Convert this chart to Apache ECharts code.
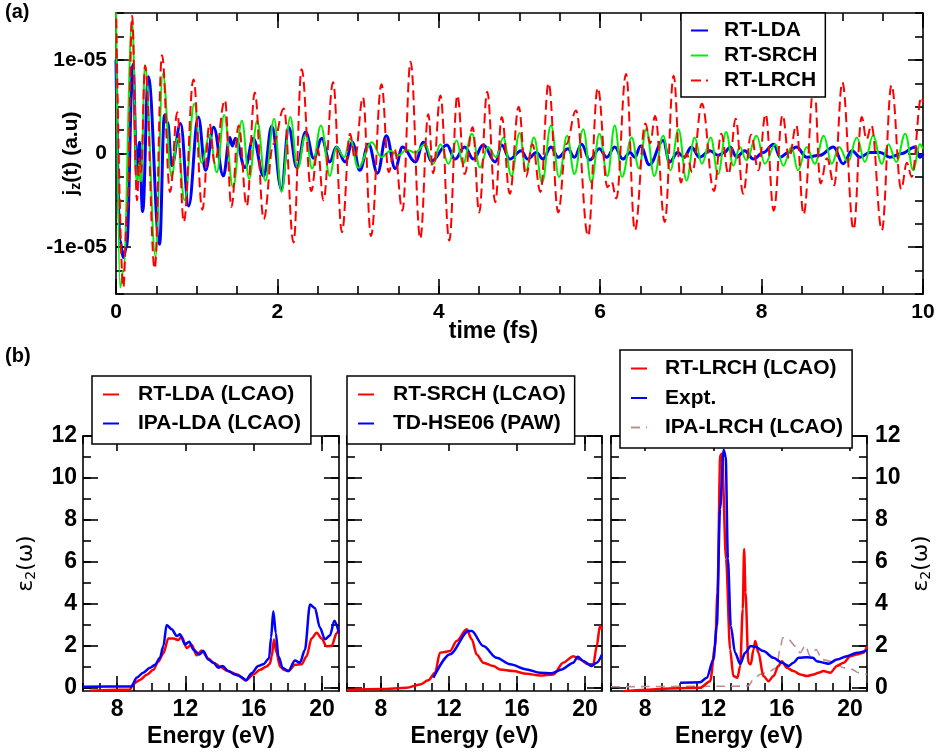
<!DOCTYPE html>
<html><head><meta charset="utf-8">
<script src="https://cdn.jsdelivr.net/npm/echarts@6/dist/echarts.min.js"></script>
<style>html,body{margin:0;padding:0;background:#fff}#c{width:938px;height:754px}</style>
</head><body><div id="c"></div>
<script>
// ---------- Panel (a): current density j_z(t), values in units of 1e-5 a.u., time in fs ----------
const J_UNIT = 1e-5;
const rtLda = [[0,1.0],[0.05,-0.93],[0.09,-1.11],[0.13,-1.0],[0.21,0.95],[0.26,-0.25],[0.29,0.12],[0.33,-0.62],[0.40,0.82],[0.54,-0.97],[0.60,0.41],[0.64,0.33],[0.69,-0.13],[0.80,0.32],[0.90,-0.56],[1.02,0.39],[1.11,-0.18],[1.21,0.28],[1.33,-0.24],[1.41,0.17],[1.44,0.08],[1.48,0.16],[1.60,-0.15],[1.70,0.16],[1.83,-0.24],[1.93,0.29],[2.05,-0.38],[2.14,0.28],[2.24,-0.15],[2.35,0.23],[2.45,-0.05],[2.55,0.16],[2.65,-0.09],[2.73,0.07],[2.84,-0.09],[2.93,0.12],[3.02,-0.18],[3.13,0.10],[3.24,-0.21],[3.35,0.19],[3.46,-0.16],[3.55,0.07],[3.71,-0.09],[3.81,0.12],[3.91,-0.08],[4.10,0.09],[4.20,-0.06],[4.32,0.07],[4.43,-0.06],[4.55,0.09],[4.70,-0.09],[4.78,0.09],[4.88,-0.06],[5.02,0.03],[5.10,-0.06],[5.21,0.01],[5.29,-0.06],[5.39,0.07],[5.48,-0.04],[5.60,0.05],[5.68,-0.04],[5.77,0.10],[5.87,-0.07],[5.99,0.05],[6.08,-0.04],[6.18,0.07],[6.28,-0.06],[6.37,0.01],[6.43,-0.04],[6.50,0.08],[6.61,-0.12],[6.78,0.14],[6.86,-0.09],[6.96,0.01],[7.04,-0.04],[7.13,0.07],[7.23,-0.04],[7.36,0.03],[7.46,-0.02],[7.54,0.01],[7.61,0.07],[7.69,-0.04],[7.79,0.03],[7.90,-0.06],[8.02,0.01],[8.15,0.10],[8.23,-0.04],[8.33,0.01],[8.43,0.07],[8.56,-0.04],[8.72,-0.02],[8.89,0.07],[9.01,-0.11],[9.12,0.03],[9.22,-0.04],[9.34,0.01],[9.47,0.01],[9.59,-0.04],[9.74,0.0],[9.90,0.07],[9.96,-0.04],[10,0.0]];
const rtSrch = [[0,1.6],[0.05,-1.43],[0.09,-1.25],[0.2,1.42],[0.26,-0.35],[0.29,-0.1],[0.31,-0.3],[0.36,0.94],[0.49,-1.1],[0.58,0.85],[0.69,-0.25],[0.76,0.16],[0.85,-0.50],[0.97,0.53],[1.06,-0.10],[1.16,0.20],[1.25,-0.20],[1.34,0.41],[1.45,-0.36],[1.56,0.35],[1.65,-0.27],[1.75,0.35],[1.85,-0.29],[1.96,0.37],[2.05,-0.41],[2.16,0.39],[2.25,-0.16],[2.35,0.20],[2.43,-0.16],[2.54,0.30],[2.65,-0.24],[2.73,0.07],[2.83,-0.04],[2.90,0.16],[3.00,-0.15],[3.17,0.12],[3.29,-0.04],[3.40,0.03],[3.50,-0.02],[3.60,0.04],[3.71,0.01],[3.83,0.10],[3.93,-0.11],[4.02,0.10],[4.12,-0.11],[4.22,0.14],[4.30,-0.11],[4.41,0.21],[4.51,-0.15],[4.61,0.07],[4.71,-0.04],[4.80,0.17],[4.90,-0.24],[5.00,0.22],[5.08,-0.18],[5.18,0.17],[5.28,-0.31],[5.39,0.30],[5.49,-0.25],[5.59,0.19],[5.68,-0.22],[5.79,0.26],[5.89,-0.31],[5.99,0.21],[6.09,-0.24],[6.18,0.30],[6.27,-0.25],[6.39,0.17],[6.48,-0.16],[6.57,0.26],[6.67,-0.24],[6.78,0.19],[6.87,-0.18],[6.97,0.26],[7.07,-0.29],[7.17,0.17],[7.26,-0.11],[7.37,0.17],[7.46,-0.22],[7.56,0.23],[7.65,-0.13],[7.73,0.07],[7.81,-0.07],[7.94,0.19],[8.04,-0.11],[8.17,0.10],[8.27,-0.13],[8.37,0.07],[8.45,-0.18],[8.56,0.07],[8.66,-0.11],[8.77,0.19],[8.87,-0.11],[8.96,0.07],[9.07,-0.09],[9.18,0.17],[9.28,-0.09],[9.38,0.19],[9.49,-0.11],[9.57,0.10],[9.67,-0.09],[9.78,0.21],[9.88,-0.18],[9.96,0.10],[10,0.05]];
const rtLrch = [[0,1.6],[0.09,-1.43],[0.14,-0.6],[0.2,1.47],[0.26,-0.5],[0.29,-0.05],[0.31,-0.2],[0.36,0.94],[0.48,-1.23],[0.57,1.05],[0.67,-0.41],[0.76,0.44],[0.84,-0.73],[0.96,0.79],[1.07,-0.60],[1.16,0.32],[1.22,-0.1],[1.35,0.57],[1.43,-0.57],[1.52,0.3],[1.62,-0.56],[1.72,0.65],[1.83,-0.70],[1.95,0.1],[2.08,0.48],[2.20,-0.95],[2.30,0.90],[2.42,-0.40],[2.50,0.05],[2.57,-0.50],[2.69,0.76],[2.80,-0.84],[2.90,0.21],[2.96,-0.05],[3.06,0.60],[3.16,-0.88],[3.29,0.74],[3.38,-0.2],[3.45,0.05],[3.55,-0.61],[3.65,0.98],[3.77,-0.91],[3.87,0.42],[3.93,-0.21],[4.02,0.62],[4.13,-0.93],[4.23,0.62],[4.32,-0.22],[4.42,0.28],[4.50,-0.63],[4.60,0.66],[4.70,-0.52],[4.78,0.39],[4.88,-0.43],[4.99,0.50],[5.08,-0.25],[5.16,0.1],[5.26,-0.41],[5.36,0.75],[5.48,-0.63],[5.58,0.1],[5.70,0.46],[5.85,-0.88],[5.97,0.70],[6.09,-0.36],[6.14,-0.30],[6.20,-0.48],[6.32,0.85],[6.43,-0.82],[6.56,0.32],[6.62,0.11],[6.68,0.40],[6.80,-0.73],[6.91,0.83],[7.00,-0.31],[7.07,0.0],[7.14,-0.2],[7.26,0.53],[7.41,-0.40],[7.50,0.21],[7.59,-0.22],[7.68,0.37],[7.77,-0.43],[7.87,0.2],[7.96,-0.18],[8.05,0.42],[8.15,-0.61],[8.26,0.41],[8.34,-0.05],[8.43,0.30],[8.52,-0.65],[8.65,0.75],[8.73,-0.32],[8.81,-0.05],[8.90,-0.34],[9.00,0.76],[9.14,-0.81],[9.24,0.39],[9.30,0.15],[9.36,0.3],[9.49,-0.82],[9.61,0.73],[9.73,-0.38],[9.80,-0.1],[9.86,-0.25],[9.98,0.60],[10,0.55]];

// ---------- Panel (b): epsilon_2(omega) vs energy (eV) ----------
const rtLdaLcao = [[6.4,-0.14],[8.75,-0.08],[8.95,0.2],[9.34,0.38],[9.73,0.62],[10.12,0.86],[10.41,1.25],[10.71,1.65],[11.0,2.35],[11.29,2.35],[11.58,2.28],[11.78,2.45],[12.07,1.9],[12.37,2.05],[12.66,1.55],[12.95,1.78],[13.34,1.4],[13.64,1.2],[14.03,1.02],[14.42,0.82],[15.0,0.65],[15.55,0.36],[15.98,0.64],[16.37,0.86],[16.76,1.02],[16.95,1.15],[17.06,1.5],[17.19,2.3],[17.33,1.7],[17.55,1.0],[17.8,0.85],[18.03,0.8],[18.42,1.1],[18.81,1.12],[19.1,1.5],[19.39,2.35],[19.69,2.62],[19.98,2.35],[20.27,1.98],[20.57,2.0],[20.86,2.6],[21.0,2.8]];
const ipaLdaLcao = [[6.0,0.05],[8.85,0.07],[9.14,0.48],[9.53,0.72],[9.93,0.96],[10.22,1.1],[10.51,1.44],[10.71,1.99],[10.9,3.0],[11.2,2.79],[11.49,2.47],[11.68,2.55],[11.98,2.07],[12.23,2.2],[12.46,1.83],[12.82,1.59],[13.05,1.75],[13.34,1.35],[13.64,1.2],[13.93,0.96],[14.18,1.04],[14.51,0.8],[14.9,0.64],[15.16,0.56],[15.35,0.48],[15.55,0.36],[15.88,0.7],[16.27,1.04],[16.56,1.12],[16.9,1.4],[17.02,2.4],[17.15,3.65],[17.3,2.6],[17.45,1.5],[17.7,0.95],[18.03,0.8],[18.42,1.3],[18.71,1.2],[19.0,1.8],[19.3,3.97],[19.59,3.8],[19.88,2.87],[20.18,2.31],[20.47,2.5],[20.73,3.2],[21.0,2.6]];
const rtSrchLcao = [[6.0,-0.1],[8.0,-0.06],[9.5,0.0],[10.29,0.16],[10.78,0.36],[11.18,0.72],[11.47,1.67],[11.76,1.71],[12.06,1.75],[12.45,2.23],[13.04,2.79],[13.34,2.31],[13.63,1.59],[14.02,1.2],[14.61,1.04],[15.0,0.88],[15.78,0.8],[16.57,0.67],[17.35,0.59],[18.14,0.64],[18.72,1.2],[19.31,1.51],[19.71,1.35],[20.19,1.12],[20.49,1.12],[20.69,1.99],[20.88,2.95],[21.0,2.79]];
const tdHse06Paw = [[11.08,0.48],[12.06,1.6],[13.14,2.71],[13.34,2.71],[14.02,1.99],[14.8,1.43],[15.59,1.12],[16.57,0.88],[17.35,0.72],[18.04,0.69],[18.63,0.88],[19.31,1.2],[19.57,1.48],[19.9,1.28],[20.39,1.04],[20.69,1.2],[21.0,1.59]];
const rtLrchLcao = [[6.72,-0.16],[11.22,0.0],[11.81,0.32],[12.1,1.99],[12.24,4.55],[12.4,11.08],[12.5,11.16],[12.74,6.15],[12.98,1.83],[13.17,0.56],[13.41,0.48],[13.57,1.04],[13.72,3.75],[13.8,6.62],[13.88,4.55],[14.05,1.2],[14.19,1.12],[14.35,1.83],[14.45,2.23],[14.64,1.67],[14.93,0.56],[15.23,0.32],[15.52,0.56],[15.81,1.04],[16.01,1.27],[16.3,0.96],[16.69,0.8],[17.09,0.64],[17.48,0.56],[17.87,0.64],[18.16,0.72],[18.45,0.8],[18.85,0.72],[19.24,1.04],[19.63,1.2],[20.02,1.51],[20.41,1.59],[20.8,1.67],[21.0,1.99]];
const expt = [[10.05,0.24],[11.22,0.27],[11.61,0.48],[12.0,1.35],[12.2,2.95],[12.39,8.53],[12.6,11.35],[12.72,11.0],[12.85,6.15],[13.02,2.95],[13.27,1.67],[13.57,1.15],[13.86,1.67],[14.19,1.99],[14.45,1.96],[14.93,1.75],[15.52,1.43],[16.01,1.2],[16.4,1.04],[16.69,1.2],[16.99,1.43],[17.48,1.46],[17.83,1.43],[18.06,1.27],[18.45,1.2],[18.75,1.15],[19.24,1.35],[19.82,1.51],[20.41,1.67],[21.0,1.8]];
const ipaLrchLcao = [[6.0,0.05],[13.6,0.08],[14.05,0.1],[14.35,0.4],[14.74,0.64],[15.3,0.8],[15.7,0.96],[15.9,1.83],[16.06,2.39],[16.4,2.31],[16.79,1.99],[17.09,1.67],[17.38,2.02],[17.67,1.51],[18.02,1.83],[18.36,1.35],[18.85,1.27],[19.24,1.12],[19.63,0.96],[20.12,0.88],[20.51,0.72],[21.0,0.64]];

// ---------- Tick values ----------
const timeTicks = [0,2,4,6,8,10];
const jTicks = [-1e-5, 0, 1e-5];
const energyTicks = [8,12,16,20];
const epsTicks = [0,2,4,6,8,10,12];

function steps(a,b,s){const r=[];for(let i=0;a+i*s<=b+s*1e-6;i++)r.push(+(a+i*s).toPrecision(10));return r;}
const timeMinor = steps(0,10,0.5);
const jMinor = steps(-1.5e-5,1.5e-5,0.25e-5);
const energyMinor = steps(6,21,1);
const epsMinor = steps(0,12,1);

const FONT = '"Liberation Sans", Arial, Helvetica, sans-serif';
const BLACK = '#000';

const xAxes = [], yAxes = [];
function addAxes(list, gi, o) {
  const first = list.length;
  o.sides.forEach(pos => {
    const lab = pos === o.labelSide;
    const ax = {
      type:'value', gridIndex:gi, position:pos, min:o.min, max:o.max,
      axisLine:{show:true,onZero:false,lineStyle:{color:BLACK,width:1.6}},
      axisTick:{show:true,inside:true,length:15,customValues:o.major,lineStyle:{color:BLACK,width:1.6}},
      axisLabel:{show:lab,customValues:o.major,formatter:o.fmt,margin:o.margin,color:BLACK,
        fontSize:o.labelSize,fontWeight:'bold',fontFamily:FONT},
      splitLine:{show:false}, axisPointer:{show:false}
    };
    if (o.name && pos === o.nameSide) {
      ax.name = o.name; ax.nameLocation = 'middle'; ax.nameGap = o.nameGap;
      ax.nameMoveOverlap = false;
      if (o.nameRotate !== undefined) ax.nameRotate = o.nameRotate;
      ax.nameTextStyle = o.nameStyle;
    }
    list.push(ax);
    list.push({
      type:'value', gridIndex:gi, position:pos, min:o.min, max:o.max,
      axisLine:{show:false,onZero:false},
      axisTick:{show:true,inside:true,length:8,customValues:o.minor,lineStyle:{color:BLACK,width:1.6}},
      axisLabel:{show:false}, splitLine:{show:false}
    });
  });
  return first;
}
const jFmt = v => v === 0 ? '0' : v.toExponential(0).replace(/e([+-])(\d)$/, 'e$10$2');
const plainFmt = v => String(v);

const grids = [
  {left:116, top:13, width:807, height:281},
  {left:83, top:436, width:256, height:255},
  {left:347, top:436, width:255, height:255},
  {left:611, top:436, width:256, height:255}
];

const nameBold = (size, pad) => ({color:BLACK,fontSize:size,fontWeight:'bold',fontFamily:FONT,padding:pad||0});
const epsName = '{e|ε}{s|2}{e|(ω)}';
const epsStyle = {color:BLACK, rich:{
  e:{fontSize:22,fontFamily:'"DejaVu Sans", "Liberation Sans", sans-serif',color:BLACK},
  s:{fontSize:14,fontFamily:'"DejaVu Sans", "Liberation Sans", sans-serif',color:BLACK,padding:[10,0,0,0]}}};

// panel (a) axes
const ax0 = addAxes(xAxes, 0, {sides:['bottom','top'], labelSide:'bottom', min:0, max:10, major:timeTicks, minor:timeMinor,
  fmt:plainFmt, margin:8, labelSize:21, name:'time (fs)', nameSide:'bottom', nameGap:26, nameStyle:nameBold(23,[0,52,0,0])});
const ay0 = addAxes(yAxes, 0, {sides:['left','right'], labelSide:'left', min:-1.5e-5, max:1.5e-5, major:jTicks, minor:jMinor,
  fmt:jFmt, margin:9, labelSize:21, name:'{b|j}{s|z}{b|(t) (a.u)}', nameSide:'left', nameGap:33, nameRotate:90,
  nameStyle:{color:BLACK, rich:{b:{fontSize:21,fontWeight:'bold',fontFamily:FONT,color:BLACK},
    s:{fontSize:14,fontWeight:'bold',fontFamily:FONT,color:BLACK,padding:[10,0,0,0]}}}});

const bAxes = [];
for (let p = 0; p < 3; p++) {
  const gi = p + 1;
  const xi = addAxes(xAxes, gi, {sides:['bottom','top'], labelSide:'bottom', min:6, max:21, major:energyTicks, minor:energyMinor,
    fmt:plainFmt, margin:7, labelSize:23, name:'Energy (eV)', nameSide:'bottom', nameGap:34, nameStyle:nameBold(23)});
  const yo = {sides:['left','right'], labelSide: p===0?'left':(p===2?'right':'none'), min:-0.15, max:12, major:epsTicks, minor:epsMinor,
    fmt:plainFmt, margin:p===0?6:8, labelSize:23};
  if (p===0) Object.assign(yo,{name:epsName,nameSide:'left',nameGap:45,nameRotate:90,nameStyle:epsStyle});
  if (p===2) Object.assign(yo,{name:epsName,nameSide:'right',nameGap:42,nameRotate:90,nameStyle:epsStyle});
  const yi = addAxes(yAxes, gi, yo);
  bAxes.push([xi, yi]);
}

function line(name, data, xi, yi, color, width, type, smooth, scale) {
  return {type:'line', name, xAxisIndex:xi, yAxisIndex:yi, symbol:'none', showSymbol:false,
    smooth, smoothMonotone:'x', animation:false,
    data: data.map(p => [p[0], scale ? p[1]*scale : p[1]]),
    lineStyle:{color, width, type: type || 'solid'}, itemStyle:{color}, emphasis:{disabled:true}};
}

const RED='#ff0000', BLUE='#0000ff', GREEN='#00ee00', ROSY='#bc8f8f';
const series = [
  line('RT-LDA', rtLda, ax0, ay0, BLUE, 3, 'solid', 0.4, J_UNIT),
  line('RT-SRCH', rtSrch, ax0, ay0, GREEN, 2, 'solid', 0.4, J_UNIT),
  line('RT-LRCH', rtLrch, ax0, ay0, RED, 2, [10,5], 0.4, J_UNIT),
  line('RT-LDA (LCAO)', rtLdaLcao, bAxes[0][0], bAxes[0][1], RED, 2.5, 'solid', 0.3),
  line('IPA-LDA (LCAO)', ipaLdaLcao, bAxes[0][0], bAxes[0][1], BLUE, 2.5, 'solid', 0.3),
  line('RT-SRCH (LCAO)', rtSrchLcao, bAxes[1][0], bAxes[1][1], RED, 2.5, 'solid', 0.3),
  line('TD-HSE06 (PAW)', tdHse06Paw, bAxes[1][0], bAxes[1][1], BLUE, 2.5, 'solid', 0.3),
  line('IPA-LRCH (LCAO)', ipaLrchLcao, bAxes[2][0], bAxes[2][1], ROSY, 1.6, [9,6], 0.3),
  line('RT-LRCH (LCAO)', rtLrchLcao, bAxes[2][0], bAxes[2][1], RED, 2.5, 'solid', 0.3),
  line('Expt.', expt, bAxes[2][0], bAxes[2][1], BLUE, 2.5, 'solid', 0.3)
];

function legend(names, left, top, pad, gap, textPad, size, iw) {
  return {data:names, orient:'vertical', left, top, padding:pad, itemGap:gap, itemWidth:iw, itemHeight:12,
    backgroundColor:'#fff', borderColor:BLACK, borderWidth:1.5, borderRadius:0, selectedMode:false, z:10,
    itemStyle:{opacity:0, borderWidth:0},
    textStyle:{color:BLACK,fontSize:size,fontWeight:'bold',fontFamily:FONT,lineHeight:20,padding:[0,0,0,textPad]}};
}

const option = {
  animation:false,
  backgroundColor:'#fff',
  grid: grids.map(g => Object.assign({containLabel:false, outerBoundsMode:'none'}, g)),
  xAxis: xAxes, yAxis: yAxes, series,
  legend: [
    legend(['RT-LDA','RT-SRCH','RT-LRCH'], 681, 13, [7,8,6,9], 4, 11, 21, 17),
    legend(['RT-LDA (LCAO)','IPA-LDA (LCAO)'], 92, 376, [8,10,10,10], 8, 14, 21, 16),
    legend(['RT-SRCH (LCAO)','TD-HSE06 (PAW)'], 347, 376, [8,9,10,10], 8, 14, 21, 16),
    legend(['RT-LRCH (LCAO)','Expt.','IPA-LRCH (LCAO)'], 620, 350, [8,9,10,10], 8.5, 13, 21, 16)
  ],
  graphic: [
    {type:'text', left:5, top:2, style:{text:'(a)', font:'bold 20px '+FONT, fill:BLACK}},
    {type:'text', left:5, top:346, style:{text:'(b)', font:'bold 20px '+FONT, fill:BLACK}}
  ]
};
const chart = echarts.init(document.getElementById('c'), null, {renderer:'canvas'});
chart.setOption(option);
</script></body></html>
